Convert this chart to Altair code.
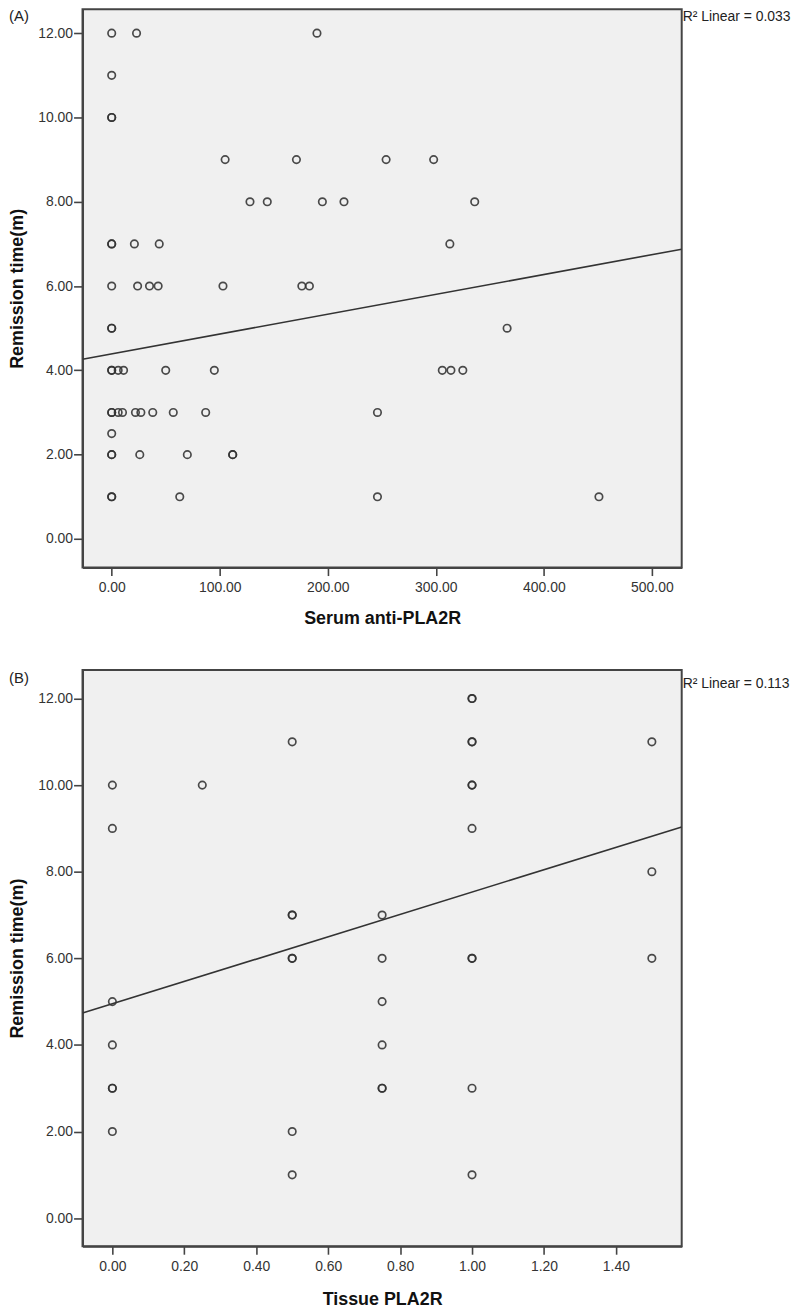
import altair as alt
import pandas as pd

# ---------------- Panel A: Serum anti-PLA2R vs remission time ----------------
serum_x = [0, 23, 190,
           0,
           0, 0,
           105, 171, 254, 298,
           128, 144, 195, 215, 336,
           0, 0, 21, 44, 313,
           0, 24, 35, 43, 103, 176, 183,
           0, 0, 366,
           0, 0, 6, 11, 50, 95, 306, 314, 325,
           0, 0, 6, 10, 22, 27, 38, 57, 87, 246,
           0,
           0, 0, 26, 70, 112, 112,
           0, 0, 63, 246, 451]
serum_y = [12, 12, 12,
           11,
           10, 10,
           9, 9, 9, 9,
           8, 8, 8, 8, 8,
           7, 7, 7, 7, 7,
           6, 6, 6, 6, 6, 6, 6,
           5, 5, 5,
           4, 4, 4, 4, 4, 4, 4, 4, 4,
           3, 3, 3, 3, 3, 3, 3, 3, 3, 3,
           2.5,
           2, 2, 2, 2, 2, 2,
           1, 1, 1, 1, 1]
serum_ticks = [0, 100, 200, 300, 400, 500]
fit_a = [4.39, 0.00471]          # intercept, slope of the linear fit
r2_a = "R² Linear = 0.033"

# ---------------- Panel B: Tissue PLA2R vs remission time ----------------
tissue_x = [0, 0, 0, 0, 0, 0, 0,
            0.25,
            0.5, 0.5, 0.5, 0.5, 0.5, 0.5, 0.5,
            0.75, 0.75, 0.75, 0.75, 0.75, 0.75,
            1, 1, 1, 1, 1, 1, 1, 1, 1, 1, 1,
            1.5, 1.5, 1.5]
tissue_y = [10, 9, 5, 4, 3, 3, 2,
            10,
            11, 7, 7, 6, 6, 2, 1,
            7, 6, 5, 4, 3, 3,
            12, 12, 11, 11, 10, 10, 9, 6, 6, 3, 1,
            11, 8, 6]
tissue_ticks = [0, 0.2, 0.4, 0.6, 0.8, 1.0, 1.2, 1.4]
fit_b = [4.95, 2.58]
r2_b = "R² Linear = 0.113"

y_ticks = [0, 2, 4, 6, 8, 10, 12]

FONT = "Liberation Sans"
W = 603


def panel(xs_, ys_, xdom, ydom, xticks, fit, r2, tag, xtitle, h, title_y, tag_y, r2_y):
    df = pd.DataFrame({"x": xs_, "y": ys_})
    xs = alt.Scale(domain=xdom, nice=False, zero=False)
    ys = alt.Scale(domain=ydom, nice=False, zero=False)
    xaxis = alt.Axis(values=xticks, format=".2f", title=xtitle, grid=False,
                     tickSize=8, tickWidth=1.6, labelPadding=5,
                     titleY=title_y, titleBaseline="alphabetic")
    yaxis = alt.Axis(values=y_ticks, format=".2f", title="Remission time(m)", grid=False,
                     tickSize=9, tickWidth=1.6, labelPadding=1,
                     titleX=-60, titleBaseline="alphabetic", titleAngle=-90)
    pts = alt.Chart(df).mark_point(
        shape="circle", filled=False, size=56, strokeWidth=1.7,
        color="#333333", opacity=0.88
    ).encode(
        x=alt.X("x:Q", scale=xs, axis=xaxis),
        y=alt.Y("y:Q", scale=ys, axis=yaxis),
    )
    ldf = pd.DataFrame({"x": list(xdom)})
    ldf["y"] = fit[0] + fit[1] * ldf["x"]
    line = alt.Chart(ldf).mark_line(color="#333333", strokeWidth=1.6, clip=True).encode(
        x=alt.X("x:Q", scale=xs, axis=xaxis),
        y=alt.Y("y:Q", scale=ys, axis=yaxis),
    )
    tag_t = alt.Chart(pd.DataFrame({"t": [tag]})).mark_text(
        align="center", baseline="middle", fontSize=15, font=FONT, color="#222222"
    ).encode(text="t:N", x=alt.value(-64), y=alt.value(tag_y))
    r2_t = alt.Chart(pd.DataFrame({"t": [r2]})).mark_text(
        align="left", baseline="middle", fontSize=14, font=FONT, color="#222222"
    ).encode(text="t:N", x=alt.value(W + 1), y=alt.value(r2_y))
    return alt.layer(pts, line, tag_t, r2_t).properties(width=W, height=h)


a = panel(serum_x, serum_y, [-27, 527.6], [-0.68, 12.57], serum_ticks, fit_a, r2_a,
          "(A)", "Serum anti-PLA2R", 562, 56.5, 7, 8)
b = panel(tissue_x, tissue_y, [-0.083, 1.583], [-0.65, 12.66], tissue_ticks, fit_b, r2_b,
          "(B)", "Tissue PLA2R", 580, 59, 8.5, 14)

chart = alt.vconcat(a, b, spacing=40, padding={"left": 0, "top": -4, "right": 0, "bottom": 0}).configure_view(
    fill="#f0f0f0", stroke="#444444", strokeWidth=2
).configure_axis(
    domainColor="#444444", domainWidth=2, tickColor="#444444",
    labelFont=FONT, labelFontSize=14, labelColor="#333333",
    titleFont=FONT, titleFontSize=18, titleFontWeight="bold", titleColor="#111111",
)

chart.save("out.html", embed_options={"renderer": "svg", "actions": False})
